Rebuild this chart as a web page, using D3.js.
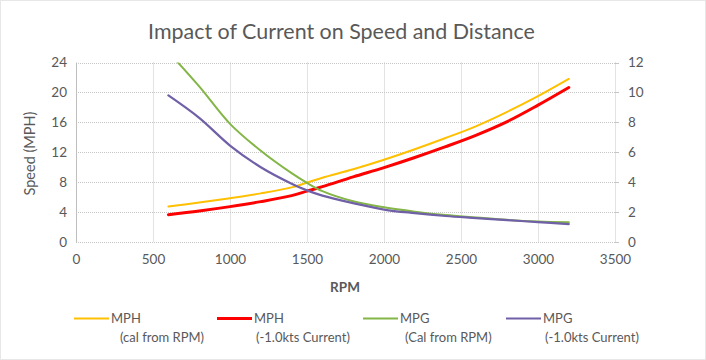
<!DOCTYPE html>
<html><head><meta charset="utf-8">
<script src="https://cdn.jsdelivr.net/npm/d3@7"></script>
<style>
html,body{margin:0;padding:0;background:#fff;}
svg text{font-family:Lato,"Open Sans",sans-serif;}
</style></head>
<body>
<svg id="chart" width="706" height="360"></svg>
<script>
// ---- data ----
const rpm     = [600, 800, 1000, 1200, 1400, 1500, 1600, 1800, 2000, 2200, 2400, 2600, 2800, 3000, 3200];
const mphCal  = [4.75, 5.27, 5.85, 6.5, 7.3, 7.95, 8.6, 9.73, 11.0, 12.4, 13.9, 15.5, 17.4, 19.5, 21.8];
const mphCur  = [3.65, 4.15, 4.73, 5.4, 6.2, 6.8, 7.4, 8.7, 9.95, 11.3, 12.75, 14.3, 16.1, 18.3, 20.66];
const mpgCal  = [12.7, 10.4, 7.9, 6.1, 4.6, 3.95, 3.4, 2.72, 2.32, 2.03, 1.8, 1.64, 1.48, 1.37, 1.32];
const mpgCur  = [9.8, 8.3, 6.45, 5.0, 3.9, 3.45, 3.1, 2.6, 2.17, 1.93, 1.74, 1.6, 1.46, 1.33, 1.2];
const xTicks  = [0, 500, 1000, 1500, 2000, 2500, 3000, 3500];
const yLeftTicks  = [0, 4, 8, 12, 16, 20, 24];
const yRightTicks = [0, 2, 4, 6, 8, 10, 12];
const seriesNames = ["MPH", "MPH", "MPG", "MPG"];
const seriesSubs  = ["(cal from RPM)", "(-1.0kts Current)", "(Cal from RPM)", "(-1.0kts Current)"];
const titleText = "Impact of Current on Speed and Distance";

const svg = d3.select("#chart");
const W = 706, H = 360;
const L = 76, R = 615, T = 62.5, B = 242;
const x  = d3.scaleLinear().domain([0, 3500]).range([L, R]);
const yL = d3.scaleLinear().domain([0, 24]).range([B, T]);
const yR = d3.scaleLinear().domain([0, 12]).range([B, T]);
const txt = "#595959", grid = "#c6c6c6";

// outer border
svg.append("rect").attr("x",0.5).attr("y",0.5).attr("width",W-1).attr("height",H-1)
  .attr("fill","#fff").attr("stroke","#cfcfcf").attr("stroke-dasharray","1,1");

// title
const title = svg.append("text").attr("x", 341.5).attr("y", 39).attr("text-anchor","middle")
  .attr("fill", txt).attr("font-size", 20).text(titleText);
(function fit(){const w=title.node().getComputedTextLength(); title.attr("font-size", 20*387/w);})();

// gridlines
const g = svg.append("g");
g.selectAll(".hg").data(yLeftTicks).join("line")
  .attr("x1", L).attr("x2", R).attr("y1", d=>Math.round(yL(d))+0.5).attr("y2", d=>Math.round(yL(d))+0.5)
  .attr("stroke", grid).attr("stroke-dasharray","1,1");
g.selectAll(".vg").data(xTicks.slice(1)).join("line")
  .attr("x1", d=>Math.round(x(d))+0.5).attr("x2", d=>Math.round(x(d))+0.5).attr("y1", T).attr("y2", B)
  .attr("stroke", grid).attr("stroke-dasharray","1,1");
// left axis solid
g.append("line").attr("x1", L+0.5).attr("x2", L+0.5).attr("y1", T).attr("y2", B+0.5).attr("stroke","#bfbfbf");
// right axis tick marks
g.selectAll(".rt").data(yRightTicks).join("line")
  .attr("x1", R).attr("x2", R+4).attr("y1", d=>Math.round(yR(d))+0.5).attr("y2", d=>Math.round(yR(d))+0.5)
  .attr("stroke", grid);

// axes labels via d3 axes
const axL = svg.append("g").attr("transform", `translate(${L-9},0)`)
  .call(d3.axisLeft(yL).tickValues(yLeftTicks).tickSize(0).tickPadding(0));
const axR = svg.append("g").attr("transform", `translate(${R+13},0)`)
  .call(d3.axisRight(yR).tickValues(yRightTicks).tickSize(0).tickPadding(0));
const axB = svg.append("g").attr("transform", `translate(0,${B+12})`)
  .call(d3.axisBottom(x).tickValues(xTicks).tickSize(0).tickPadding(0).tickFormat(d3.format("d")));
[axL, axR, axB].forEach(a => {
  a.select(".domain").remove();
  a.selectAll("text").attr("fill", txt).attr("font-size", 13.5).style("font-family","Lato,sans-serif");
});

// axis titles
svg.append("text").attr("transform","translate(35,153.5) rotate(-90)").attr("text-anchor","middle")
  .attr("fill", txt).attr("font-size", 14.5).text("Speed (MPH)");
svg.append("text").attr("x", 345).attr("y", 292).attr("text-anchor","middle")
  .attr("fill", txt).attr("font-size", 13.5).attr("font-weight","bold").text("RPM");

// series
const series = [
  {vals: mphCal, y: yL, color: "#FFC000", w: 2},
  {vals: mphCur, y: yL, color: "#FF0000", w: 3},
  {vals: mpgCal, y: yR, color: "#84B547", w: 2},
  {vals: mpgCur, y: yR, color: "#7060A8", w: 2.2}
];
svg.append("clipPath").attr("id","clip").append("rect").attr("x",L).attr("y",T).attr("width",R-L).attr("height",B-T);
const lines = svg.append("g").attr("clip-path","url(#clip)");
series.forEach(s => {
  const line = d3.line().x((d,i)=>x(rpm[i])).y(d=>s.y(d)).curve(d3.curveCatmullRom.alpha(0.5));
  lines.append("path").datum(s.vals).attr("d", line).attr("fill","none")
    .attr("stroke", s.color).attr("stroke-width", s.w).attr("stroke-linejoin","round").attr("stroke-linecap","round");
});

// legend
const legX = [74, 217, 363, 506];
const subX = [120, 256, 405, 545];
series.forEach((s,i) => {
  const lg = svg.append("g");
  lg.append("line").attr("x1", legX[i]).attr("x2", legX[i]+35).attr("y1", 318.5).attr("y2", 318.5)
    .attr("stroke", s.color).attr("stroke-width", s.w);
  lg.append("text").attr("x", legX[i]+37).attr("y", 323).attr("fill", txt).attr("font-size", 13).text(seriesNames[i]);
  lg.append("text").attr("x", subX[i]).attr("y", 342).attr("fill", txt).attr("font-size", 13).text(seriesSubs[i]);
});
</script>
</body></html>
